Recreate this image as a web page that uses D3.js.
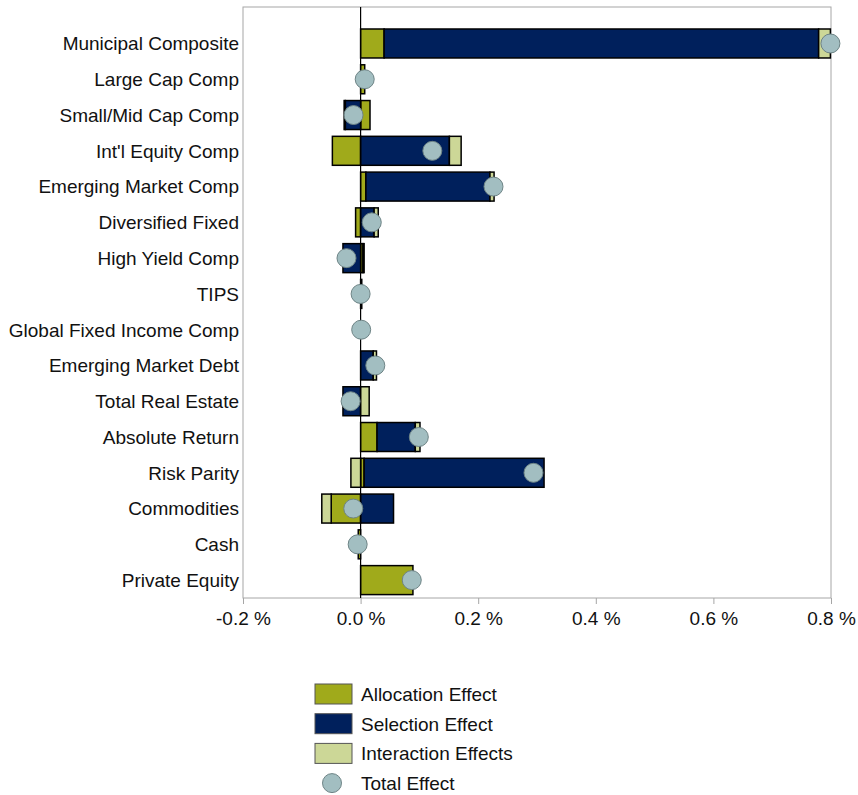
<!DOCTYPE html>
<html>
<head>
<meta charset="utf-8">
<script src="https://cdn.jsdelivr.net/npm/d3@7"></script>
<style>
  body { margin: 0; background: #fff; }
  text { font-family: "Liberation Sans", Arial, sans-serif; fill: #111; }
</style>
</head>
<body>
<svg width="858" height="795"></svg>
<script>
const categories = [
  "Municipal Composite", "Large Cap Comp", "Small/Mid Cap Comp", "Int'l Equity Comp",
  "Emerging Market Comp", "Diversified Fixed", "High Yield Comp", "TIPS",
  "Global Fixed Income Comp", "Emerging Market Debt", "Total Real Estate",
  "Absolute Return", "Risk Parity", "Commodities", "Cash", "Private Equity"
];
const allocation  = [0.040, 0.007, 0.016, -0.048, 0.009, -0.0085, 0.004, 0.002, 0.000, 0.000, 0.000, 0.028, 0.006, -0.050, -0.004, 0.089];
const selection   = [0.739, 0.000, -0.026, 0.151, 0.211, 0.023, -0.030, 0.000, 0.000, 0.0215, -0.030, 0.065, 0.306, 0.056, 0.000, 0.000];
const interaction = [0.020, 0.000, -0.002, 0.020, 0.007, 0.007, 0.002, 0.000, 0.000, 0.0055, 0.0146, 0.008, -0.0165, -0.016, 0.000, 0.000];
const totalEffect = [0.799, 0.007, -0.012, 0.122, 0.226, 0.019, -0.024, 0.000, 0.001, 0.025, -0.017, 0.099, 0.294, -0.0125, -0.005, 0.087];
const seriesNames = ["Allocation Effect", "Selection Effect", "Interaction Effects"];
const xTicks = [-0.2, 0, 0.2, 0.4, 0.6, 0.8];

const colors = ["#a0aa1b", "#00205c", "#ccd797"];
const dotFill = "#a2bec1";

const plot = { left: 243, right: 831, top: 7, bottom: 598 };
const svg = d3.select("svg");

const x = d3.scaleLinear().domain([-0.2, 0.8]).range([plot.left, plot.right]);
const y = d3.scaleBand()
  .domain(categories)
  .range([25.6, plot.bottom])
  .paddingInner(0.19)
  .paddingOuter(0.095);

const rows = categories.map((c, i) => ({
  cat: c,
  a: allocation[i],
  s: selection[i],
  n: interaction[i],
  t: totalEffect[i]
}));

const stacked = d3.stack()
  .keys(["a", "s", "n"])
  .offset(d3.stackOffsetDiverging)(rows);

// frame
svg.append("rect")
  .attr("x", plot.left).attr("y", plot.top)
  .attr("width", plot.right - plot.left)
  .attr("height", plot.bottom - plot.top)
  .attr("fill", "none")
  .attr("stroke", "#a6a6a6")
  .attr("stroke-width", 1);

// bars
svg.append("g")
  .selectAll("g")
  .data(stacked)
  .join("g")
  .attr("fill", (d, i) => colors[i])
  .selectAll("rect")
  .data((d) => d)
  .join("rect")
  .filter((d) => d[1] - d[0] !== 0)
  .attr("x", (d) => x(Math.min(d[0], d[1])))
  .attr("width", (d) => Math.abs(x(d[1]) - x(d[0])))
  .attr("y", (d) => y(d.data.cat))
  .attr("height", y.bandwidth())
  .attr("stroke", "#000")
  .attr("stroke-width", 1.5);

// zero line
svg.append("line")
  .attr("x1", x(0)).attr("x2", x(0))
  .attr("y1", plot.top).attr("y2", plot.bottom)
  .attr("stroke", "#000")
  .attr("stroke-width", 1.2);

// total dots
svg.append("g")
  .selectAll("circle")
  .data(rows)
  .join("circle")
  .attr("cx", (d) => x(d.t))
  .attr("cy", (d) => y(d.cat) + y.bandwidth() / 2)
  .attr("r", 9.5)
  .attr("fill", dotFill)
  .attr("stroke", "#6e8486")
  .attr("stroke-width", 1);

// category labels
svg.append("g")
  .selectAll("text")
  .data(categories)
  .join("text")
  .attr("x", plot.left - 4)
  .attr("y", (d) => y(d) + y.bandwidth() / 2)
  .attr("dy", "0.36em")
  .attr("text-anchor", "end")
  .attr("font-size", "19px")
  .text((d) => d);

// x axis
const xAxis = svg.append("g")
  .attr("transform", `translate(0,${plot.bottom})`)
  .call(d3.axisBottom(x).tickValues(xTicks).tickSize(6).tickPadding(8)
    .tickFormat((d) => d.toFixed(1) + " %"));
xAxis.select(".domain").remove();
xAxis.selectAll("line").attr("stroke", "#a6a6a6");
xAxis.selectAll("text")
  .attr("font-size", "19px")
  .attr("font-family", "Liberation Sans, Arial, sans-serif")
  .attr("fill", "#111");

// legend
const legend = svg.append("g").attr("transform", "translate(315,684)");
seriesNames.forEach((name, i) => {
  const g = legend.append("g").attr("transform", `translate(0,${i * 29.7})`);
  g.append("rect")
    .attr("width", 37).attr("height", 20)
    .attr("fill", colors[i])
    .attr("stroke", "#555")
    .attr("stroke-width", 1);
  g.append("text")
    .attr("x", 46).attr("y", 10).attr("dy", "0.36em")
    .attr("font-size", "19px")
    .text(name);
});
const lg = legend.append("g").attr("transform", `translate(0,${3 * 29.7})`);
lg.append("circle")
  .attr("cx", 17).attr("cy", 10).attr("r", 9.5)
  .attr("fill", dotFill).attr("stroke", "#6e8486");
lg.append("text")
  .attr("x", 46).attr("y", 10).attr("dy", "0.36em")
  .attr("font-size", "19px")
  .text("Total Effect");
</script>
</body>
</html>
